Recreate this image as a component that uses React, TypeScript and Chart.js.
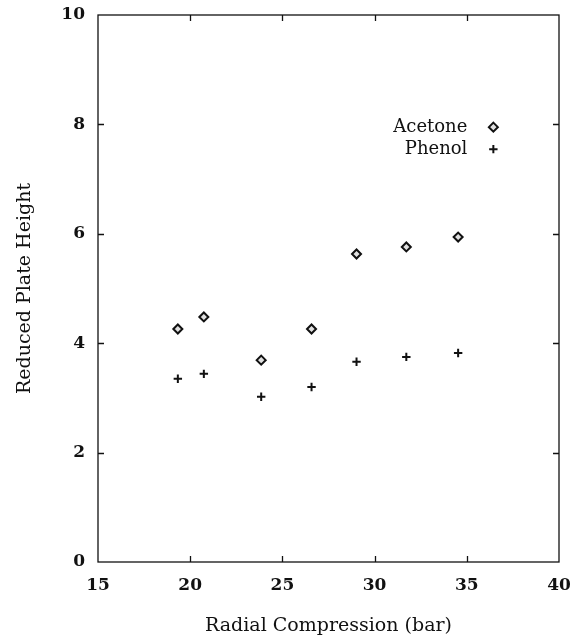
import React, { useEffect, useRef } from "react";
import { Chart, registerables } from "chart.js";

Chart.register(...registerables);

const acetoneX = [19.33, 20.74, 23.85, 26.58, 29.02, 31.72, 34.53];
const acetoneY = [4.26, 4.48, 3.69, 4.26, 5.63, 5.76, 5.94];
const phenolX = [19.33, 20.74, 23.85, 26.58, 29.02, 31.72, 34.53];
const phenolY = [3.35, 3.44, 3.02, 3.2, 3.66, 3.75, 3.82];
const xTicks = [15, 20, 25, 30, 35, 40];
const yTicks = [0, 2, 4, 6, 8, 10];
const seriesNames = ["Acetone", "Phenol"];

const FONT = '"DejaVu Serif", "Liberation Serif", serif';

function drawMarker(ctx: CanvasRenderingContext2D, style: string, x: number, y: number, r: number) {
  ctx.beginPath();
  if (style === "rectRot") {
    ctx.moveTo(x, y - r);
    ctx.lineTo(x + r, y);
    ctx.lineTo(x, y + r);
    ctx.lineTo(x - r, y);
    ctx.closePath();
    ctx.fill();
    ctx.stroke();
  } else {
    ctx.moveTo(x - r, y);
    ctx.lineTo(x + r, y);
    ctx.moveTo(x, y - r);
    ctx.lineTo(x, y + r);
    ctx.stroke();
  }
}

const frame = {
  id: "frame",
  afterDatasetsDraw(chart: any) {
    const { ctx, chartArea: a, scales } = chart;
    ctx.save();
    ctx.strokeStyle = "#111";
    ctx.lineWidth = 1.3;
    ctx.strokeRect(a.left, a.top, a.right - a.left, a.bottom - a.top);
    const L = 6;
    ctx.beginPath();
    xTicks.slice(1, -1).forEach((v) => {
      const px = Math.round(scales.x.getPixelForValue(v)) + 0.5;
      ctx.moveTo(px, a.bottom);
      ctx.lineTo(px, a.bottom - L);
      ctx.moveTo(px, a.top);
      ctx.lineTo(px, a.top + L);
    });
    yTicks.slice(1, -1).forEach((v) => {
      const py = Math.round(scales.y.getPixelForValue(v)) + 0.5;
      ctx.moveTo(a.left, py);
      ctx.lineTo(a.left + L, py);
      ctx.moveTo(a.right, py);
      ctx.lineTo(a.right - L, py);
    });
    ctx.stroke();

    // legend
    ctx.font = `18px ${FONT}`;
    ctx.textAlign = "right";
    ctx.textBaseline = "middle";
    const lx = scales.x.getPixelForValue(35.03);
    const mx = scales.x.getPixelForValue(36.44);
    const ly0 = scales.y.getPixelForValue(7.95);
    const dy = 22;
    chart.data.datasets.forEach((ds: any, i: number) => {
      const y = ly0 + i * dy;
      ctx.fillStyle = "#111";
      ctx.fillText(seriesNames[i], lx, y);
      ctx.save();
      ctx.lineWidth = ds.borderWidth;
      ctx.strokeStyle = ds.borderColor;
      ctx.fillStyle = ds.backgroundColor;
      drawMarker(ctx, ds.pointStyle, mx, y, ds.pointRadius);
      ctx.restore();
    });
    ctx.restore();
  },
};

export default function App() {
  const ref = useRef<HTMLCanvasElement>(null);
  useEffect(() => {
    if (!ref.current) return;
    const chart = new Chart(ref.current, {
      type: "scatter",
      data: {
        datasets: [
          {
            label: seriesNames[0],
            data: acetoneX.map((x, i) => ({ x, y: acetoneY[i] })),
            pointStyle: "rectRot",
            pointRadius: 4.5,
            borderWidth: 2,
            borderColor: "#111",
            backgroundColor: "#e0e0e0",
          },
          {
            label: seriesNames[1],
            data: phenolX.map((x, i) => ({ x, y: phenolY[i] })),
            pointStyle: "cross",
            pointRadius: 4.2,
            borderWidth: 2,
            borderColor: "#111",
            backgroundColor: "#111",
          },
        ],
      },
      options: {
        animation: false,
        responsive: false,
        layout: { padding: { left: 0, right: 11, top: 15, bottom: 3 } },
        plugins: { legend: { display: false }, tooltip: { enabled: false } },
        scales: {
          x: {
            type: "linear",
            min: 15,
            max: 40,
            afterBuildTicks: (s: any) => {
              s.ticks = xTicks.map((v) => ({ value: v }));
            },
            afterFit: (s: any) => {
              s.height = 75;
              s.paddingLeft = 0;
              s.paddingRight = 0;
            },
            grid: { display: false },
            border: { display: false },
            ticks: {
              color: "#111",
              padding: 5,
              maxRotation: 0,
              font: { family: FONT, size: 17, weight: "bold" },
            },
            title: {
              display: true,
              text: "Radial Compression (bar)",
              color: "#111",
              font: { family: FONT, size: 19 },
              padding: { top: 0, bottom: 0 },
            },
          },
          y: {
            type: "linear",
            min: 0,
            max: 10,
            afterBuildTicks: (s: any) => {
              s.ticks = yTicks.map((v) => ({ value: v }));
            },
            afterFit: (s: any) => {
              s.width = 98;
              s.paddingTop = 0;
              s.paddingBottom = 0;
            },
            grid: { display: false },
            border: { display: false },
            ticks: {
              color: "#111",
              padding: 5,
              font: { family: FONT, size: 17, weight: "bold" },
            },
            title: {
              display: true,
              text: "Reduced Plate Height",
              color: "#111",
              font: { family: FONT, size: 19 },
              padding: { top: 13.5, bottom: 0 },
            },
          },
        },
      },
      plugins: [frame],
    } as any);
    return () => chart.destroy();
  }, []);
  return (
    <div style={{ position: "fixed", left: 0, top: 0, width: 570, height: 640, background: "#fff" }}>
      <canvas ref={ref} width={570} height={640} style={{ width: 570, height: 640 }} />
    </div>
  );
}
